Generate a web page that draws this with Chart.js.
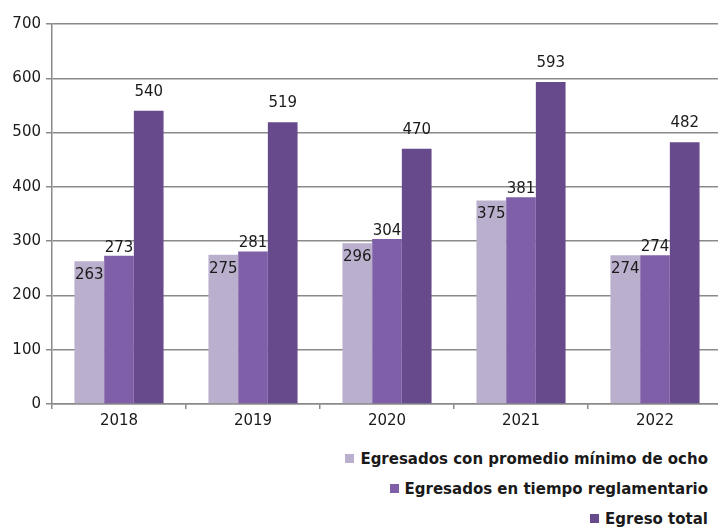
<!DOCTYPE html>
<html>
<head>
<meta charset="utf-8">
<script src="https://cdn.jsdelivr.net/npm/chart.js@4.4.1/dist/chart.umd.min.js"></script>
<style>
  html, body { margin: 0; padding: 0; background: #fff; overflow: hidden; }
  #wrap { position: relative; width: 718px; height: 440px; overflow: hidden; }
  #legend { width: 708px; padding-top: 4px; font-family: "DejaVu Sans", sans-serif; font-weight: bold; font-size: 15px; color: #1a1a1a; }
  #legend div { text-align: right; height: 30px; line-height: 30px; white-space: nowrap; }
  #legend span.box { display: inline-block; width: 9px; height: 9px; margin-right: 6px; vertical-align: 1px; }
</style>
</head>
<body>
<div id="wrap"><canvas id="barChart" width="724" height="440"></canvas></div>
<div id="legend"></div>
<script>
const years = ["2018", "2019", "2020", "2021", "2022"];
const promedioOcho = [263, 275, 296, 375, 274];
const tiempoReglamentario = [273, 281, 304, 381, 274];
const egresoTotal = [540, 519, 470, 593, 482];
const seriesNames = ["Egresados con promedio mínimo de ocho", "Egresados en tiempo reglamentario", "Egreso total"];
const seriesColors = ["#BAAFCC", "#7F60A8", "#674A8C"];
const yTicks = [0, 100, 200, 300, 400, 500, 600, 700];

// label offsets per series (label centre relative to bar top)
const labelShift = [14, -8, -19];

const valueLabels = {
    id: "valueLabels",
    afterDatasetsDraw(chart) {
        const ctx = chart.ctx;
        ctx.save();
        ctx.font = "15px 'DejaVu Sans', sans-serif";
        ctx.fillStyle = "#1a1a1a";
        ctx.textAlign = "center";
        ctx.textBaseline = "middle";
        chart.data.datasets.forEach((ds, i) => {
            chart.getDatasetMeta(i).data.forEach((bar, j) => {
                ctx.fillText(String(ds.data[j]), bar.x, bar.y + labelShift[i]);
            });
        });
        ctx.restore();
    }
};

const ctxBar = document.getElementById("barChart").getContext("2d");
new Chart(ctxBar, {
    type: "bar",
    data: {
        labels: years,
        datasets: [
            { label: seriesNames[0], backgroundColor: seriesColors[0], data: promedioOcho },
            { label: seriesNames[1], backgroundColor: seriesColors[1], data: tiempoReglamentario },
            { label: seriesNames[2], backgroundColor: seriesColors[2], data: egresoTotal }
        ]
    },
    options: {
        responsive: false,
        animation: false,
        events: [],
        layout: { padding: { top: 24, right: 2, left: 0, bottom: 0 } },
        datasets: { bar: { categoryPercentage: 0.665, barPercentage: 1.0 } },
        plugins: { legend: { display: false }, tooltip: { enabled: false } },
        scales: {
            x: {
                grid: { drawOnChartArea: false, drawTicks: true, tickLength: 5, offset: true, color: "#8a8a8a", lineWidth: 1.5 },
                border: { color: "#8a8a8a", width: 1.5 },
                ticks: { color: "#1a1a1a", font: { family: "DejaVu Sans", size: 15 }, padding: 3 },
                afterFit(scale) { scale.height = 36; }
            },
            y: {
                min: 0,
                max: 700,
                afterBuildTicks(scale) { scale.ticks = yTicks.map(v => ({ value: v })); },
                grid: { color: "#8a8a8a", lineWidth: 1.5, tickLength: 6 },
                border: { color: "#8a8a8a", width: 1.5 },
                ticks: { color: "#1a1a1a", font: { family: "DejaVu Sans", size: 15 }, padding: 5 },
                afterFit(scale) { scale.width = 52; }
            }
        }
    },
    plugins: [valueLabels]
});

const legend = document.getElementById("legend");
seriesNames.forEach((name, i) => {
    const row = document.createElement("div");
    const box = document.createElement("span");
    box.className = "box";
    box.style.background = seriesColors[i];
    row.appendChild(box);
    row.appendChild(document.createTextNode(name));
    legend.appendChild(row);
});
</script>
</body>
</html>
